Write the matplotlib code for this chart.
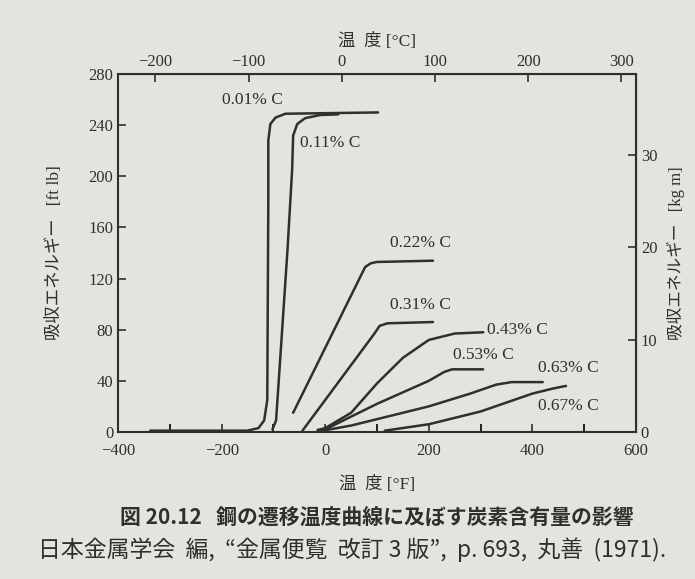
import numpy as np
import matplotlib.pyplot as plt

plt.rcParams['font.family'] = ['Liberation Serif', 'Noto Sans CJK JP']

# transition curves, temperature in degF, absorbed energy in ft lb
c001_t = [-338, -151, -129, -118, -112, -110, -110, -106, -96, -77, 102]
c001_e = [1, 1, 3, 9, 25, 181, 228, 241, 246, 249, 250]
c011_t = [-102, -95, -91, -73, -64, -62, -54, -39, -10, 25]
c011_e = [2, 9, 33, 142, 205, 232, 241, 245.5, 248, 248.5]
c022_t = [-62, 77, 88, 100, 208]
c022_e = [15, 129, 132, 133, 134]
c031_t = [-44, 95, 105, 120, 208]
c031_e = [1, 77, 83, 85, 86]
c043_t = [-15, 0, 50, 100, 150, 200, 250, 305]
c043_e = [1.5, 3, 15, 38, 58, 72, 77, 78]
c053_t = [-10, 0, 100, 200, 230, 245, 305]
c053_e = [1, 2, 22, 40, 47, 49, 49]
c063_t = [-5, 50, 100, 200, 280, 330, 360, 420]
c063_e = [1, 5, 10, 20, 30, 37, 39, 39]
c067_t = [115, 200, 300, 350, 400, 440, 465]
c067_e = [1, 6, 16, 23, 30, 34, 36]

curves = [
    (c001_t, c001_e, '0.01% C', -199, 260),
    (c011_t, c011_e, '0.11% C', -48, 226),
    (c022_t, c022_e, '0.22% C', 125, 148),
    (c031_t, c031_e, '0.31% C', 125, 99),
    (c043_t, c043_e, '0.43% C', 313, 80),
    (c053_t, c053_e, '0.53% C', 247, 60),
    (c063_t, c063_e, '0.63% C', 411, 50),
    (c067_t, c067_e, '0.67% C', 411, 20),
]

paper = '#e2e5df'
ink = '#2e302e'

fig = plt.figure(figsize=(6.95, 5.79), dpi=100, facecolor=paper)
ax = fig.add_axes([0.170, 0.254, 0.745, 0.618], facecolor=paper)

for t, e, lab, lx, ly in curves:
    ax.plot(t, e, color=ink, lw=1.8, solid_capstyle='round', solid_joinstyle='round')
    ax.text(lx, ly, lab, fontsize=12.5, color=ink, va='center', ha='left')

ax.set_xlim(-400, 600)
ax.set_ylim(0, 280)
ax.set_xticks(np.arange(-400, 601, 200))
ax.set_xticks(np.arange(-300, 600, 200), minor=True)
ax.set_yticks(np.arange(0, 281, 40))
ax.tick_params(direction='in', length=6, width=1.2, labelsize=12, colors=ink)
ax.tick_params(axis='x', pad=8)
ax.tick_params(which='minor', direction='in', length=6, width=1.2)
for s in ax.spines.values():
    s.set_linewidth(1.5)
    s.set_color(ink)

ax.set_xlabel('温  度 [°F]', fontsize=12.5, color=ink, labelpad=12)
ax.set_ylabel('吸収エネルギー   [ft lb]', fontsize=12.5, color=ink, labelpad=18)

top = ax.secondary_xaxis('top', functions=(lambda f: (f - 32) / 1.8, lambda c: c * 1.8 + 32))
top.set_xticks(np.arange(-200, 301, 100))
top.tick_params(direction='in', length=6, width=1.2, labelsize=12, colors=ink, pad=3)
top.set_xlabel('温  度 [°C]', fontsize=12.5, color=ink, labelpad=6)

right = ax.secondary_yaxis('right', functions=(lambda y: y / 7.233, lambda k: k * 7.233))
right.set_yticks([0, 10, 20, 30])
right.tick_params(direction='in', length=6, width=1.2, labelsize=12, colors=ink)
right.set_ylabel('吸収エネルギー   [kg m]', fontsize=12, color=ink, labelpad=7, rotation=90)

fig.text(0.542, 0.107, '図 20.12   鋼の遷移温度曲線に及ぼす炭素含有量の影響',
         ha='center', va='center', fontsize=15, color=ink, weight='bold',
         family=['Noto Sans CJK JP'])
fig.text(0.507, 0.050, '日本金属学会  編,  “金属便覧  改訂 3 版”,  p. 693,  丸善  (1971).',
         ha='center', va='center', fontsize=16.5, color=ink, family=['Noto Sans CJK JP'])

fig.savefig('out.png', dpi=100, facecolor=paper)
